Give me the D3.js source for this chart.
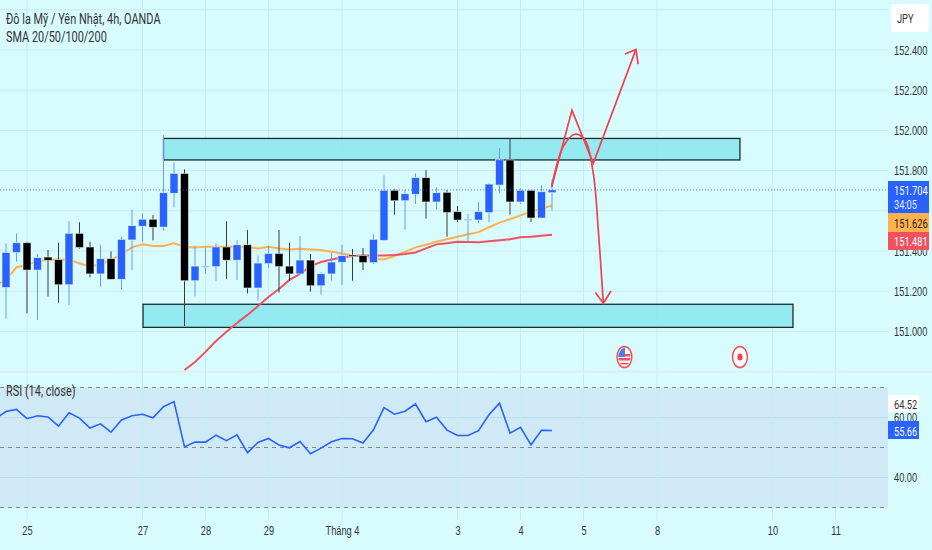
<!DOCTYPE html>
<html>
<head>
<meta charset="UTF-8">
<title>USD/JPY 4h</title>
<script src="https://d3js.org/d3.v7.min.js"></script>
<style>
  body { margin: 0; background: #d8fbfe; }
  svg { display: block; font-family: Roboto, "Liberation Sans", sans-serif; }
  .axis path, .axis line { display: none; }
</style>
</head>
<body>
<script>
// candles
var opens = [151.218,151.392,151.441,151.305,151.370,151.357,151.232,151.488,151.420,151.286,151.362,151.259,151.455,151.523,151.558,151.519,151.687,151.786,151.252,151.322,151.322,151.420,151.354,151.431,151.216,151.337,151.388,151.325,151.286,151.355,151.227,151.286,151.344,151.380,151.378,151.342,151.453,151.702,151.650,151.682,151.765,151.644,151.692,151.596,151.554,151.554,151.591,151.728,151.853,151.644,151.702,151.564,151.690];
var highs = [151.438,151.488,151.446,151.385,151.405,151.441,151.548,151.543,151.446,151.430,151.398,151.471,151.607,151.587,151.579,151.977,151.841,151.806,151.425,151.418,151.438,151.548,151.453,151.504,151.378,151.425,151.504,151.441,151.474,151.385,151.294,151.393,151.431,151.410,151.415,151.484,151.776,151.707,151.703,151.786,151.803,151.717,151.703,151.624,151.584,151.644,151.737,151.912,151.957,151.712,151.702,151.727,151.756];
var lows = [151.063,151.347,151.090,151.057,151.173,151.143,151.131,151.412,151.269,151.223,151.259,151.209,151.305,151.448,151.453,151.501,151.617,151.027,151.173,151.286,151.252,151.262,151.256,151.189,151.153,151.315,151.193,151.252,151.283,151.198,151.184,151.252,151.231,151.252,151.305,151.335,151.450,151.581,151.506,151.634,151.561,151.607,151.471,151.544,151.448,151.538,151.544,151.687,151.581,151.634,151.544,151.564,151.601];
var closes = [151.393,151.441,151.305,151.367,151.354,151.232,151.488,151.417,151.286,151.362,151.259,151.458,151.526,151.558,151.518,151.690,151.786,151.252,151.325,151.325,151.420,151.354,151.431,151.216,151.340,151.388,151.322,151.286,151.355,151.227,151.287,151.345,151.377,151.373,151.342,151.458,151.702,151.650,151.685,151.765,151.644,151.690,151.591,151.554,151.558,151.596,151.733,151.854,151.644,151.702,151.564,151.695,151.704];

// moving averages. sma20 begins one bar before the first candle, sma50 at bar 17
var sma20 = [151.231,151.256,151.319,151.330,151.350,151.355,151.358,151.355,151.339,151.322,151.335,151.355,151.385,151.418,151.433,151.425,151.425,151.438,151.421,151.417,151.421,151.421,151.421,151.421,151.418,151.413,151.421,151.413,151.408,151.411,151.408,151.405,151.396,151.388,151.378,151.372,151.362,151.358,151.375,151.395,151.418,151.431,151.446,151.458,151.471,151.483,151.494,151.518,151.541,151.558,151.577,151.596,151.610,151.626];
var sma50 = [150.808,150.848,150.898,150.952,150.998,151.042,151.082,151.126,151.171,151.211,151.256,151.286,151.325,151.345,151.358,151.368,151.375,151.378,151.378,151.378,151.380,151.385,151.393,151.413,151.433,151.439,151.446,151.445,151.443,151.448,151.453,151.458,151.468,151.471,151.476,151.481];

// rsi begins one bar before the first candle
var rsi = [59.6,62.0,62.7,59.6,60.6,60.2,57.1,61.6,59.8,56.5,57.9,55.1,59.2,60.6,61.1,59.9,63.6,65.3,50.2,51.8,51.8,54.1,52.3,54.2,48.3,51.7,53.0,50.8,49.9,52.0,47.9,49.8,51.9,53.0,52.9,51.5,55.9,63.3,61.1,62.1,64.5,58.6,60.1,55.8,54.0,54.0,55.6,60.9,64.8,54.8,56.7,50.9,55.7,55.66];

var priceTicks = [152.6,152.4,152.2,152.0,151.8,151.6,151.4,151.2,151.0];
var priceLabels = [152.4,152.2,152.0,151.8,151.4,151.2,151.0];
var rsiTicks = [60,40];
var rsiBands = [70,50,30];
var timeBars = [2,13,19,25,32,43,49,55,62,73,79];
var timeLabels = ["25","27","28","29","Tháng 4","3","4","5","8","10","11"];

// drawings on the chart, as [bar, price]
var zones = [[15,69.9,151.960,151.853],[13.05,74.95,151.135,151.020]];
var zigzag = [[51.97,151.720],[53.9,152.101],[55.93,151.836],[60.0,152.403]];
var zigzagHead = [[58.95,152.380],[60.0,152.403],[60.2,152.330]];
var arc = [[51.97,151.720],[53.07,151.919],[54.19,151.981],[55.14,151.952],[55.93,151.787],[56.41,151.504],[56.89,151.140]];
var arcHead = [[56.13,151.193],[56.89,151.140],[57.62,151.201]];
var eventBars = [58.9,69.9];

var width = 932, height = 550, plotRight = 888;
var blue = "#2962ff", orange = "#ffb14e", red = "#f2505e", gridCol = "#c5ecef", textCol = "#333";

var x = d3.scaleLinear().domain([0,52]).range([6,552]);
var y = d3.scaleLinear().domain([152,151]).range([130.4,331.4]);
var yr = d3.scaleLinear().domain([50,30]).range([447.5,507.5]);

var svg = d3.select("body").append("svg").attr("width",width).attr("height",height);
svg.append("rect").attr("width",width).attr("height",height).attr("fill","#d8fbfe");

var defs = svg.append("defs");
defs.append("clipPath").attr("id","mainClip").append("rect").attr("width",plotRight).attr("height",371);
defs.append("clipPath").attr("id","flagClip").append("ellipse").attr("rx",6).attr("ry",9);

// rsi band under the grid
svg.append("rect").attr("x",0).attr("y",yr(70)).attr("width",plotRight).attr("height",yr(30)-yr(70)).attr("fill","#cfe9f6");

// grid
svg.selectAll(".hgrid").data(priceTicks).enter().append("line")
  .attr("x1",0).attr("x2",plotRight).attr("y1",function(d){return y(d);}).attr("y2",function(d){return y(d);})
  .attr("stroke",gridCol);
svg.selectAll(".rgrid").data(rsiTicks).enter().append("line")
  .attr("x1",0).attr("x2",plotRight).attr("y1",function(d){return yr(d);}).attr("y2",function(d){return yr(d);})
  .attr("stroke","#bfdfe8");
svg.selectAll(".vgrid").data(timeBars).enter().append("line")
  .attr("x1",function(d){return x(d);}).attr("x2",function(d){return x(d);}).attr("y1",0).attr("y2",520)
  .attr("stroke",gridCol);
svg.append("line").attr("x1",0).attr("x2",width).attr("y1",371.5).attr("y2",371.5).attr("stroke","#e4e6ea");

// rsi dashed bands
svg.selectAll(".band").data(rsiBands).enter().append("line")
  .attr("x1",0).attr("x2",plotRight).attr("y1",function(d){return yr(d);}).attr("y2",function(d){return yr(d);})
  .attr("stroke","#868a8f").attr("stroke-dasharray","4 4");

var main = svg.append("g").attr("clip-path","url(#mainClip)");

// zones
main.selectAll(".zone").data(zones).enter().append("rect")
  .attr("x",function(d){return x(d[0]);}).attr("width",function(d){return x(d[1])-x(d[0]);})
  .attr("y",function(d){return y(d[2]);}).attr("height",function(d){return y(d[3])-y(d[2]);})
  .attr("fill","#8fe7ef").attr("fill-opacity",0.92).attr("stroke","#1f2a2c").attr("stroke-width",1.3);

// moving averages
var maLine = d3.line().x(function(d){return x(d.i);}).y(function(d){return y(d.v);});
main.append("path").attr("d",maLine(sma20.map(function(v,k){return {i:k-1,v:v};})))
  .attr("fill","none").attr("stroke",orange).attr("stroke-width",2);
main.append("path").attr("d",maLine(sma50.map(function(v,k){return {i:k+17,v:v};})))
  .attr("fill","none").attr("stroke",red).attr("stroke-width",2);

// candles
var bars = opens.map(function(o,i){ return {i:i,o:o,h:highs[i],l:lows[i],c:closes[i]}; });
var candle = main.selectAll(".candle").data(bars).enter().append("g");
candle.append("line")
  .attr("x1",function(d){return x(d.i);}).attr("x2",function(d){return x(d.i);})
  .attr("y1",function(d){return y(d.h);}).attr("y2",function(d){return y(d.l);})
  .attr("stroke",function(d){return d.c>=d.o ? "#6f97ff" : "#3a3a3a";});
candle.append("rect")
  .attr("x",function(d){return x(d.i)-4;}).attr("width",8)
  .attr("y",function(d){return y(Math.max(d.o,d.c));})
  .attr("height",function(d){return Math.max(1,Math.abs(y(d.o)-y(d.c)));})
  .attr("fill",function(d){return d.c>=d.o ? blue : "#000";})
  .attr("stroke","#eefeff").attr("stroke-opacity",0.7).attr("stroke-width",0.8);

// last price line
var last = closes[closes.length-1];
svg.append("line").attr("x1",0).attr("x2",plotRight).attr("y1",y(last)).attr("y2",y(last))
  .attr("stroke",blue).attr("stroke-opacity",0.8).attr("stroke-dasharray","1 2");

// hand drawn arrows
var straight = d3.line().x(function(d){return x(d[0]);}).y(function(d){return y(d[1]);});
var curved = d3.line().x(function(d){return x(d[0]);}).y(function(d){return y(d[1]);}).curve(d3.curveCatmullRom);
[[zigzag,straight],[zigzagHead,straight],[arc,curved],[arcHead,straight]].forEach(function(p){
  svg.append("path").attr("d",p[1](p[0])).attr("fill","none").attr("stroke","#f2404f").attr("stroke-width",1.7).attr("stroke-linejoin","miter");
});

// event icons
var flag = svg.append("g").attr("transform","translate("+x(eventBars[0])+",357)");
flag.append("ellipse").attr("rx",7.4).attr("ry",10.6).attr("fill","#fff");
var fl = flag.append("g").attr("clip-path","url(#flagClip)");
fl.append("rect").attr("x",-8).attr("y",-3).attr("width",16).attr("height",2.5).attr("fill","#f2505e");
fl.append("rect").attr("x",-8).attr("y",1).attr("width",16).attr("height",2.5).attr("fill","#f2505e");
fl.append("rect").attr("x",-8).attr("y",6).attr("width",16).attr("height",1.5).attr("fill","#f2505e");
fl.append("rect").attr("x",-8).attr("y",-11).attr("width",8.5).attr("height",11).attr("fill","#4a7df0");
flag.append("ellipse").attr("rx",7.4).attr("ry",10.6).attr("fill","none").attr("stroke","#f2505e").attr("stroke-width",1.5);
var dot = svg.append("g").attr("transform","translate("+x(eventBars[1])+",357)");
dot.append("ellipse").attr("rx",7.4).attr("ry",10.6).attr("fill","#fff").attr("stroke","#f2505e").attr("stroke-width",1.5);
dot.append("ellipse").attr("rx",2.6).attr("ry",3.6).attr("fill","#f2404f");

// rsi line
svg.append("path").attr("d",d3.line().x(function(d,i){return x(i-1);}).y(function(d){return yr(d);})(rsi))
  .attr("fill","none").attr("stroke",blue).attr("stroke-width",1.6);

// the reference is a narrowed screenshot, so text gets squeezed sideways
var axisSize = "13.5px", axisK = 0.685;

// right axes
var axisY = d3.axisRight(y).tickValues(priceLabels).tickSize(0).tickPadding(0).tickFormat(d3.format(".3f"));
var gY = svg.append("g").attr("class","axis").attr("transform","translate(894,0)").call(axisY);
gY.selectAll("text").attr("fill",textCol).style("font-size",axisSize).attr("transform","scale("+axisK+",1)");
var axisR = d3.axisRight(yr).tickValues(rsiTicks).tickSize(0).tickPadding(0).tickFormat(d3.format(".2f"));
var gR = svg.append("g").attr("class","axis").attr("transform","translate(894,0)").call(axisR);
gR.selectAll("text").attr("fill",textCol).style("font-size",axisSize).attr("transform","scale("+axisK+",1)");

// time axis
var axisX = d3.axisBottom(x).tickValues(timeBars).tickSize(0).tickPadding(0)
  .tickFormat(function(d,i){return timeLabels[i];});
var gX = svg.append("g").attr("class","axis").attr("transform","translate(0,525)").call(axisX);
gX.select(".domain").remove();
gX.selectAll("text").attr("fill",textCol).style("font-size",axisSize).attr("transform","scale("+axisK+",1)");

// price tags
function tag(x0,w,y0,h,fill) {
  svg.append("rect").attr("x",x0).attr("y",y0).attr("width",w).attr("height",h).attr("fill",fill);
}
function label(tx,ty,s,col,size,k) {
  return svg.append("text").attr("transform","translate("+tx+","+ty+") scale("+k+",1)")
    .attr("fill",col).style("font-size",size+"px").text(s);
}
tag(888,41,181,32,blue);
tag(888,41,213,19,orange);
tag(888,41,232,18,red);
label(894,194.5,"151.704","#fff",13.5,axisK);
label(894,208.5,"34:05","#e3eaff",13.5,axisK);
label(894,227.5,"151.626","#222",13.5,axisK);
label(894,245.5,"151.481","#fff",13.5,axisK);
tag(888,31,395,17,"#fff");
label(894,408.5,"64.52",textCol,13.5,axisK);
tag(888,31,421,18,blue);
label(894,435.5,"55.66","#fff",13.5,axisK);

// currency box
svg.append("rect").attr("x",891).attr("y",4).attr("width",38).attr("height",28).attr("rx",3).attr("fill","#fff");
label(897,23,"JPY",textCol,13.5,axisK);

// legends
label(6,24,"Đô la Mỹ / Yên Nhật, 4h, OANDA",textCol,14,0.78);
label(6,42,"SMA 20/50/100/200",textCol,14,0.78);
label(6,396,"RSI (14, close)",textCol,14,0.78);
</script>
</body>
</html>
